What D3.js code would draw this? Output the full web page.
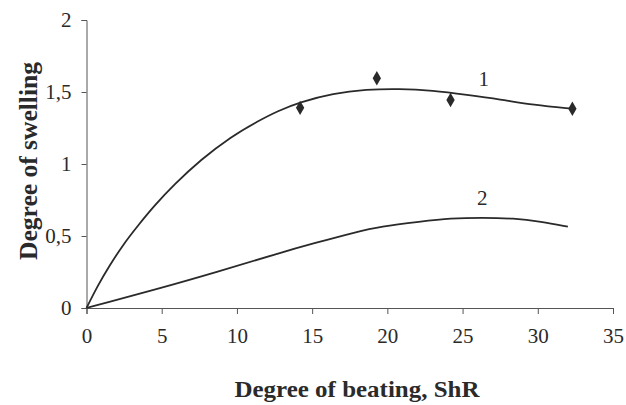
<!DOCTYPE html>
<html><head><meta charset="utf-8">
<script src="https://cdn.jsdelivr.net/npm/d3@7"></script>
<style>body{margin:0;background:#fff}svg{display:block}</style>
</head><body>
<script>
// Data
const xTicks = [0, 5, 10, 15, 20, 25, 30, 35];
const yTicks = [0, 0.5, 1, 1.5, 2];
const yTickLabels = ["0", "0,5", "1", "1,5", "2"];
// Curve 1 (fitted line)
const curve1X = [0, 0.72, 1.5, 2.5, 3.4, 4.5, 5.8, 7.6, 9.6, 11.4, 12.7, 14.2, 16.4, 18.6, 20.8, 23.0, 25.3, 27.5, 29.7, 32.3];
const curve1Y = [0, 0.15, 0.29, 0.45, 0.57, 0.71, 0.855, 1.03, 1.19, 1.298, 1.368, 1.43, 1.49, 1.518, 1.523, 1.51, 1.48, 1.449, 1.41, 1.384];
// Measured points (diamonds)
const pointsX = [14.2, 19.3, 24.2, 32.3];
const pointsY = [1.39, 1.595, 1.444, 1.384];
// Curve 2
const curve2X = [0, 1.2, 4.3, 8.7, 12.9, 15.1, 18.0, 19.5, 22.2, 24.2, 26.3, 28.4, 30.2, 32.0];
const curve2Y = [0, 0.033, 0.12, 0.25, 0.385, 0.449, 0.53, 0.565, 0.6, 0.623, 0.628, 0.623, 0.6, 0.565];
const curveLabels = ["1", "2"];
const curveLabelPos = [[26.4, 1.59], [26.3, 0.765]];
const xTitle = "Degree of beating, ShR";
const yTitle = "Degree of swelling";

const W = 626, H = 405;
const svg = d3.select("body").append("svg").attr("width", W).attr("height", H);
const x = d3.scaleLinear().domain([0, 35]).range([86.5, 613]);
const y = d3.scaleLinear().domain([0, 2]).range([308, 20]);
const ink = "#2a2a2a";
const font = "'Liberation Serif','Times New Roman',serif";

// X axis
const gx = svg.append("g").attr("transform", `translate(0,${y(0)})`)
  .call(d3.axisBottom(x).tickValues(xTicks).tickSize(6).tickPadding(14).tickFormat(d3.format("d")));
gx.select(".domain").attr("stroke", "#555").attr("stroke-width", 1);
gx.selectAll(".tick line").attr("stroke", "#555");
gx.selectAll("text").attr("font-family", font).attr("font-size", 21).attr("fill", ink);

// Y axis
const gy = svg.append("g").attr("transform", `translate(${x(0)},0)`)
  .call(d3.axisLeft(y).tickValues(yTicks).tickSize(5).tickPadding(10).tickFormat((d, i) => yTickLabels[i]));
gy.select(".domain").attr("stroke", "#555").attr("stroke-width", 1);
gy.selectAll(".tick line").attr("stroke", "#555");
gy.selectAll("text").attr("font-family", font).attr("font-size", 21).attr("fill", ink);

// Curves
const line = d3.line().x(d => x(d[0])).y(d => y(d[1])).curve(d3.curveBasis);
const c1 = curve1X.map((v, i) => [v, curve1Y[i]]);
const c2 = curve2X.map((v, i) => [v, curve2Y[i]]);
[c1, c2].forEach(c => svg.append("path").datum(c).attr("d", line)
  .attr("fill", "none").attr("stroke", ink).attr("stroke-width", 1.8));

// Diamonds
svg.selectAll(".pt").data(pointsX.map((v, i) => [v, pointsY[i]])).enter()
  .append("path").attr("class", "pt")
  .attr("transform", d => `translate(${x(d[0])},${y(d[1])})`)
  .attr("d", d3.symbol().type(d3.symbolDiamond).size(60))
  .attr("fill", ink);

// Curve labels
svg.selectAll(".cl").data(curveLabels).enter().append("text").attr("class", "cl")
  .attr("x", (d, i) => x(curveLabelPos[i][0])).attr("y", (d, i) => y(curveLabelPos[i][1]))
  .attr("text-anchor", "middle").attr("dominant-baseline", "central")
  .attr("font-family", font).attr("font-size", 21).attr("fill", ink).text(d => d);

// Axis titles
svg.append("text").attr("x", 357).attr("y", 397).attr("text-anchor", "middle")
  .attr("font-family", font).attr("font-weight", "bold").attr("font-size", 23).attr("fill", ink)
  .attr("textLength", 245).attr("lengthAdjust", "spacingAndGlyphs")
  .text(xTitle);
svg.append("text").attr("transform", "translate(37,161) rotate(-90)").attr("text-anchor", "middle")
  .attr("font-family", font).attr("font-weight", "bold").attr("font-size", 25).attr("fill", ink)
  .attr("textLength", 198).attr("lengthAdjust", "spacingAndGlyphs")
  .text(yTitle);
</script>
</body></html>
